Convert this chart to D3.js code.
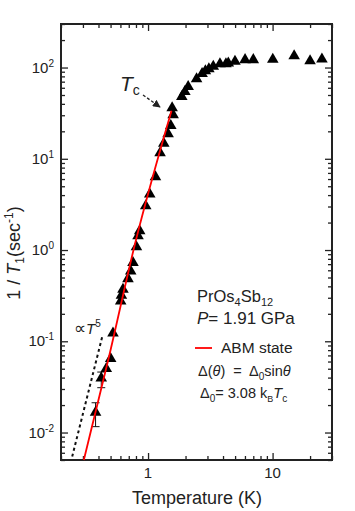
<!DOCTYPE html>
<html>
<head>
  <meta charset="utf-8">
  <script src="https://cdn.jsdelivr.net/npm/d3@7"></script>
  <style>
    body { margin: 0; background: #fff; }
    svg { font-family: "Liberation Sans", Arial, sans-serif; }
    text { white-space: pre; }
  </style>
</head>
<body>
  <svg id="chart" width="355" height="511"></svg>
  <script>
  // measured relaxation rate 1/T1 vs temperature
  const tempK = [0.379, 0.421, 0.462, 0.501, 0.523, 0.603, 0.611, 0.629, 0.690, 0.726,
    0.757, 0.807, 0.831, 0.857, 0.958, 1.032, 1.147, 1.249, 1.338, 1.449,
    1.523, 1.590, 1.561, 1.867, 1.975, 2.10, 2.453, 2.716, 2.887, 3.08,
    3.34, 3.78, 4.22, 4.41, 4.99, 6.01, 7.00, 10.04, 14.9, 20.0, 24.9];
  const rate = [0.0166, 0.0395, 0.0501, 0.0646, 0.123, 0.275, 0.318, 0.370, 0.484, 0.588,
    0.725, 1.08, 1.43, 1.62, 3.04, 4.09, 6.34, 11.6, 14.7, 18.7,
    23.1, 30.2, 36.1, 48.0, 54.5, 61.8, 75.1, 85.9, 91.8, 96.8,
    102.6, 109.8, 109.8, 111.5, 116.4, 121.6, 121.6, 122.4, 134.4, 118.3, 123.3];

  // error bars on the two lowest points
  const errT = [0.379, 0.421];
  const errLo = [0.0116, 0.031];
  const errHi = [0.0212, 0.046];

  // ABM state fit curve
  const fitT = [0.305, 0.476, 0.796, 1.543];
  const fitRate = [0.005, 0.0603, 1.256, 33.7];

  // T^5 guide
  const guideT = [0.246, 0.4295];
  const guideRate = [0.00545, 0.1135];

  const xTicks = [1, 10];
  const yTicks = [0.01, 0.1, 1, 10, 100];

  const svg = d3.select('#chart');
  const pL = 61, pR = 332, pT = 24, pB = 460;
  const ink = '#222';

  const x = d3.scaleLog().domain([0.2, 30]).range([pL, pR]);
  const y = d3.scaleLog().domain([0.005, 300]).range([pB, pT]);

  const isMajor = v => Math.abs(Math.log10(v) - Math.round(Math.log10(v))) < 1e-6;

  // ticks on all four sides, pointing inward
  function sideTicks(axisFn, scale, tx, ty, dir) {
    const g = svg.append('g').attr('transform', `translate(${tx},${ty})`)
      .call(axisFn(scale).tickValues(scale.ticks()).tickSize(0).tickFormat(''));
    g.select('.domain').remove();
    g.selectAll('.tick line')
      .attr('stroke', ink).attr('stroke-width', 1.3)
      .each(function(d) {
        const len = isMajor(d) ? 7 : 4;
        const l = d3.select(this);
        if (dir === 'x') l.attr('y2', ty === pB ? -len : len);
        else l.attr('x2', tx === pL ? len : -len);
      });
    return g;
  }
  sideTicks(d3.axisBottom, x, 0, pB, 'x');
  sideTicks(d3.axisTop, x, 0, pT, 'x');
  sideTicks(d3.axisLeft, y, pL, 0, 'y');
  sideTicks(d3.axisRight, y, pR, 0, 'y');

  svg.append('rect')
    .attr('x', pL).attr('y', pT)
    .attr('width', pR - pL).attr('height', pB - pT)
    .attr('fill', 'none').attr('stroke', ink).attr('stroke-width', 2);

  // tick labels
  svg.append('g').selectAll('text').data(xTicks).join('text')
    .attr('x', d => x(d)).attr('y', 478)
    .attr('text-anchor', 'middle').attr('font-size', 15).attr('fill', ink)
    .text(d => d);

  const yl = svg.append('g').selectAll('text').data(yTicks).join('text')
    .attr('x', 54).attr('y', d => y(d) + 5)
    .attr('text-anchor', 'end').attr('font-size', 15).attr('fill', ink);
  yl.append('tspan').text('10');
  yl.append('tspan').attr('dy', -6).attr('font-size', 10)
    .text(d => Math.round(Math.log10(d)));

  // axis titles
  svg.append('text')
    .attr('x', 197).attr('y', 504)
    .attr('text-anchor', 'middle').attr('font-size', 18).attr('fill', ink)
    .text('Temperature (K)');

  const yt = svg.append('text')
    .attr('transform', 'translate(20,253) rotate(-90)')
    .attr('text-anchor', 'middle').attr('font-size', 18).attr('fill', ink);
  yt.append('tspan').text('1 / ');
  yt.append('tspan').attr('font-style', 'italic').text('T');
  yt.append('tspan').attr('font-size', 12).attr('dy', 4).text('1');
  yt.append('tspan').attr('dy', -4).text('(sec');
  yt.append('tspan').attr('font-size', 12).attr('dy', -7).text('-1');
  yt.append('tspan').attr('dy', 7).text(')');

  const plot = svg.append('g');

  // T^5 guide line
  plot.append('path')
    .datum(guideT.map((t, i) => [t, guideRate[i]]))
    .attr('d', d3.line().x(d => x(d[0])).y(d => y(d[1])))
    .attr('fill', 'none').attr('stroke', '#111')
    .attr('stroke-width', 2).attr('stroke-dasharray', '3,3');

  // error bars
  const eb = plot.append('g').selectAll('g').data(errT).join('g')
    .attr('stroke', '#111').attr('stroke-width', 1);
  eb.append('line')
    .attr('x1', d => x(d)).attr('x2', d => x(d))
    .attr('y1', (d, i) => y(errLo[i])).attr('y2', (d, i) => y(errHi[i]));
  eb.append('line')
    .attr('x1', d => x(d) - 4).attr('x2', d => x(d) + 4)
    .attr('y1', (d, i) => y(errLo[i])).attr('y2', (d, i) => y(errLo[i]));
  eb.append('line')
    .attr('x1', d => x(d) - 4).attr('x2', d => x(d) + 4)
    .attr('y1', (d, i) => y(errHi[i])).attr('y2', (d, i) => y(errHi[i]));

  // data markers
  plot.append('g').selectAll('path').data(tempK).join('path')
    .attr('d', d3.symbol(d3.symbolTriangle, 58))
    .attr('transform', (d, i) => `translate(${x(d)},${y(rate[i])})`)
    .attr('fill', '#000');

  // ABM fit
  plot.append('path')
    .datum(fitT.map((t, i) => [t, fitRate[i]]))
    .attr('d', d3.line().x(d => x(d[0])).y(d => y(d[1])).curve(d3.curveMonotoneX))
    .attr('fill', 'none').attr('stroke', '#ff0000').attr('stroke-width', 1.8);

  // Tc annotation
  const tc = svg.append('text').attr('x', 120).attr('y', 91).attr('fill', ink);
  tc.append('tspan').attr('font-size', 21).attr('font-style', 'italic').text('T');
  tc.append('tspan').attr('font-size', 14).attr('dy', 4).text('c');

  svg.append('defs').append('marker')
    .attr('id', 'arr').attr('viewBox', '0 0 10 10')
    .attr('refX', 9).attr('refY', 5)
    .attr('markerWidth', 6).attr('markerHeight', 6)
    .attr('orient', 'auto')
    .append('path').attr('d', 'M0,0L10,5L0,10z').attr('fill', ink);
  svg.append('line')
    .attr('x1', 143).attr('y1', 95).attr('x2', 160).attr('y2', 107)
    .attr('stroke', ink).attr('stroke-width', 1.3)
    .attr('stroke-dasharray', '3,2').attr('marker-end', 'url(#arr)');

  // proportional-to label
  const pl = svg.append('text').attr('x', 74).attr('y', 334).attr('fill', ink).attr('font-size', 15);
  pl.append('tspan').attr('font-size', 17).text('\u221D');
  pl.append('tspan').attr('font-style', 'italic').text('T');
  pl.append('tspan').attr('font-size', 10).attr('dy', -7).text('5');

  // sample info + legend
  const info = svg.append('g').attr('fill', ink);
  const t1 = info.append('text').attr('x', 197).attr('y', 302).attr('font-size', 16.5);
  t1.append('tspan').text('PrOs');
  t1.append('tspan').attr('font-size', 11).attr('dy', 4).text('4');
  t1.append('tspan').attr('dy', -4).text('Sb');
  t1.append('tspan').attr('font-size', 11).attr('dy', 4).text('12');

  const t2 = info.append('text').attr('x', 197).attr('y', 324).attr('font-size', 17);
  t2.append('tspan').attr('font-style', 'italic').text('P');
  t2.append('tspan').text('= 1.91 GPa');

  info.append('line')
    .attr('x1', 195).attr('x2', 212).attr('y1', 348).attr('y2', 348)
    .attr('stroke', '#ff0000').attr('stroke-width', 1.8);
  info.append('text').attr('x', 221).attr('y', 352.5).attr('font-size', 15.5).text('ABM state');

  const t3 = info.append('text').attr('x', 198).attr('y', 376).attr('font-size', 14.5);
  t3.append('tspan').text('\u0394(');
  t3.append('tspan').attr('font-style', 'italic').text('\u03B8');
  t3.append('tspan').text(')  =  \u0394');
  t3.append('tspan').attr('font-size', 10).attr('dy', 4).text('0');
  t3.append('tspan').attr('dy', -4).text('sin');
  t3.append('tspan').attr('font-style', 'italic').text('\u03B8');

  const t4 = info.append('text').attr('x', 200).attr('y', 398).attr('font-size', 14.5);
  t4.append('tspan').text('\u0394');
  t4.append('tspan').attr('font-size', 10).attr('dy', 4).text('0');
  t4.append('tspan').attr('dy', -4).text('= 3.08 k');
  t4.append('tspan').attr('font-size', 9).attr('dy', 4).text('B');
  t4.append('tspan').attr('dy', -4).attr('font-style', 'italic').text('T');
  t4.append('tspan').attr('font-size', 10).attr('dy', 4).text('c');
  </script>
</body>
</html>
